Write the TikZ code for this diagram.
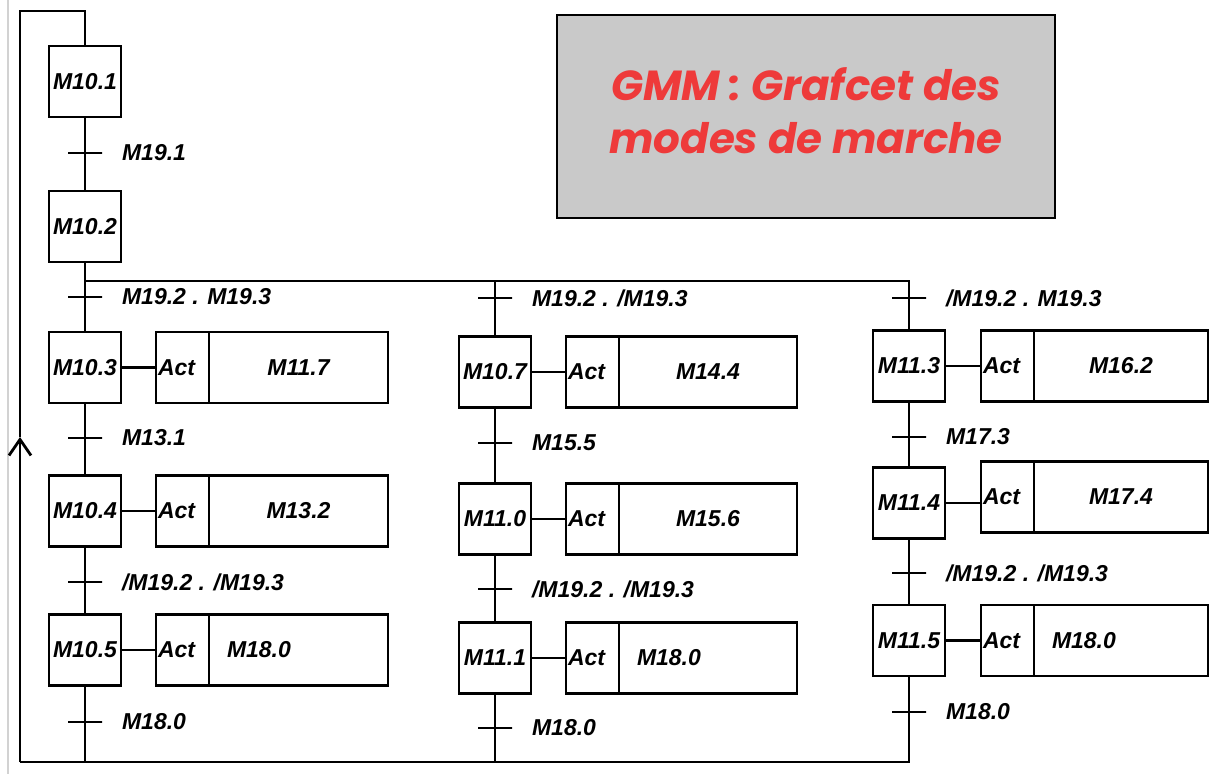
\documentclass[tikz,border=0pt]{standalone}
\usepackage{fontspec}
\setmainfont{Liberation Sans}
\newfontfamily\titlefont{Poppins}
\usetikzlibrary{arrows.meta}
\definecolor{titlered}{RGB}{238,58,58}
\definecolor{titlegray}{RGB}{201,201,201}
\newcommand\lab{\fontsize{11.5}{13}\selectfont\bfseries\itshape}
\tikzset{
  lines/.style={line width=1.4pt},
  stepbox/.style={draw,lines,minimum width=36pt,minimum height=35.5pt,inner sep=0pt,outer sep=0pt,font=\lab},
  actbox/.style={draw,lines,minimum height=35.5pt,minimum width=26.5pt,inner xsep=1pt,outer sep=0pt,
    text width=24.5pt,align=left,anchor=west,font=\lab},
  outbox/.style={draw,lines,minimum height=35.5pt,outer sep=0pt,anchor=west,font=\lab},
  outleft/.style={outbox,inner xsep=9pt,text width=#1,align=left},
  trans/.style={draw,lines,minimum width=17pt,minimum height=0pt,inner sep=0pt,outer sep=0pt},
  cond/.style={font=\lab,label distance=6pt},
}
\begin{document}
\begin{tikzpicture}[x=0.5pt,y=-0.5pt,lines]
\useasboundingbox (0,0) rectangle (1210,774);
\draw[gray!35,line width=0.6pt] (8,0) -- (8,774);

% titre
\node[draw,fill=titlegray,line width=1.3pt,minimum width=249pt,minimum height=101.5pt]
  (titre) at (806,116.5) {};
\node[align=center,text=titlered,font=\titlefont\fontsize{21}{26.5}\selectfont\bfseries\itshape]
  (titretxt) at ([yshift=3pt]titre.center) {GMM : Grafcet des\\modes de marche};

% etapes initiales
\node[stepbox] (s101) at (85,81.5) {M10.1};
\node[trans,label={[cond]right:M19.1}] (t01) at (85,153) {};
\node[stepbox] (s102) at (85,226.5) {M10.2};

% branche gauche
\node[trans,label={[cond]right:M19.2 . M19.3}] (t11) at (85,297) {};
\node[stepbox] (s103) at (85,367.5) {M10.3};
\node[trans,label={[cond]right:M13.1}] (t12) at (85,438) {};
\node[stepbox] (s104) at (85,511) {M10.4};
\node[trans,label={[cond]right:/M19.2 . /M19.3}] (t13) at (85,582) {};
\node[stepbox] (s105) at (85,650) {M10.5};
\node[trans,label={[cond]right:M18.0}] (t14) at (85,722) {};

\node[actbox] (a103) at (156,367.5) {Act};
\node[outbox,minimum width=89.5pt] (o103) at (a103.east) {M11.7};
\node[actbox] (a104) at (156,511) {Act};
\node[outbox,minimum width=89.5pt] (o104) at (a104.east) {M13.2};
\node[actbox] (a105) at (156,650) {Act};
\node[outleft=71.5pt,minimum width=89.5pt] (o105) at (a105.east) {M18.0};

% branche milieu
\node[trans,label={[cond]right:M19.2 . /M19.3}] (t21) at (495,298) {};
\node[stepbox] (s107) at (495,372) {M10.7};
\node[trans,label={[cond]right:M15.5}] (t22) at (495,443) {};
\node[stepbox] (s110) at (495,519) {M11.0};
\node[trans,label={[cond]right:/M19.2 . /M19.3}] (t23) at (495,589) {};
\node[stepbox] (s111) at (495,658) {M11.1};
\node[trans,label={[cond]right:M18.0}] (t24) at (495,728) {};

\node[actbox] (a107) at (566,372) {Act};
\node[outbox,minimum width=89pt] (o107) at (a107.east) {M14.4};
\node[actbox] (a110) at (566,519) {Act};
\node[outbox,minimum width=89pt] (o110) at (a110.east) {M15.6};
\node[actbox] (a111) at (566,658) {Act};
\node[outleft=71pt,minimum width=89pt] (o111) at (a111.east) {M18.0};

% branche droite
\node[trans,label={[cond]right:/M19.2 . M19.3}] (t31) at (909,298) {};
\node[stepbox] (s113) at (909,366) {M11.3};
\node[trans,label={[cond]right:M17.3}] (t32) at (909,437) {};
\node[stepbox] (s114) at (909,503) {M11.4};
\node[trans,label={[cond]right:/M19.2 . /M19.3}] (t33) at (909,573) {};
\node[stepbox] (s115) at (909,640.5) {M11.5};
\node[trans,label={[cond]right:M18.0}] (t34) at (909,712) {};

\node[actbox] (a113) at (981,366) {Act};
\node[outbox,minimum width=87pt] (o113) at (a113.east) {M16.2};
\node[actbox] (a114) at (981,497) {Act};
\node[outbox,minimum width=87pt] (o114) at (a114.east) {M17.4};
\node[actbox] (a115) at (981,640.5) {Act};
\node[outleft=69pt,minimum width=87pt] (o115) at (a115.east) {M18.0};

% points de liaison
\coordinate (dl) at (85,281);
\coordinate (dm) at (495,281);
\coordinate (dr) at (909,281);
\coordinate (bl) at (85,762);
\coordinate (bm) at (495,762);
\coordinate (br) at (909,762);
\coordinate (lb) at (20,762);
\coordinate (lm) at (20,437);
\coordinate (lt) at (20,11);
\coordinate (lh) at (85,11);

% liaisons
\draw (s101) -- (t01) -- (s102) -- (t11) -- (s103) -- (t12) -- (s104) -- (t13) -- (s105) -- (t14) -- (bl);
\draw (dl) -- (dr) -- (t31) -- (s113) -- (t32) -- (s114) -- (t33) -- (s115) -- (t34) -- (br) -- (lb);
\draw (dm) -- (t21) -- (s107) -- (t22) -- (s110) -- (t23) -- (s111) -- (t24) -- (bm);
\draw[-{Straight Barb[length=8pt,width=11pt]}] (lb) -- (lm);
\draw (lm) -- (lt) -- (lh) -- (s101);
\draw (s103) -- (a103);
\draw (s104) -- (a104);
\draw (s105) -- (a105);
\draw (s107) -- (a107);
\draw (s110) -- (a110);
\draw (s111) -- (a111);
\draw (s113) -- (a113);
\draw (s114.east) -- (s114.east -| a114.west);
\draw (s115) -- (a115);
\end{tikzpicture}
\end{document}
